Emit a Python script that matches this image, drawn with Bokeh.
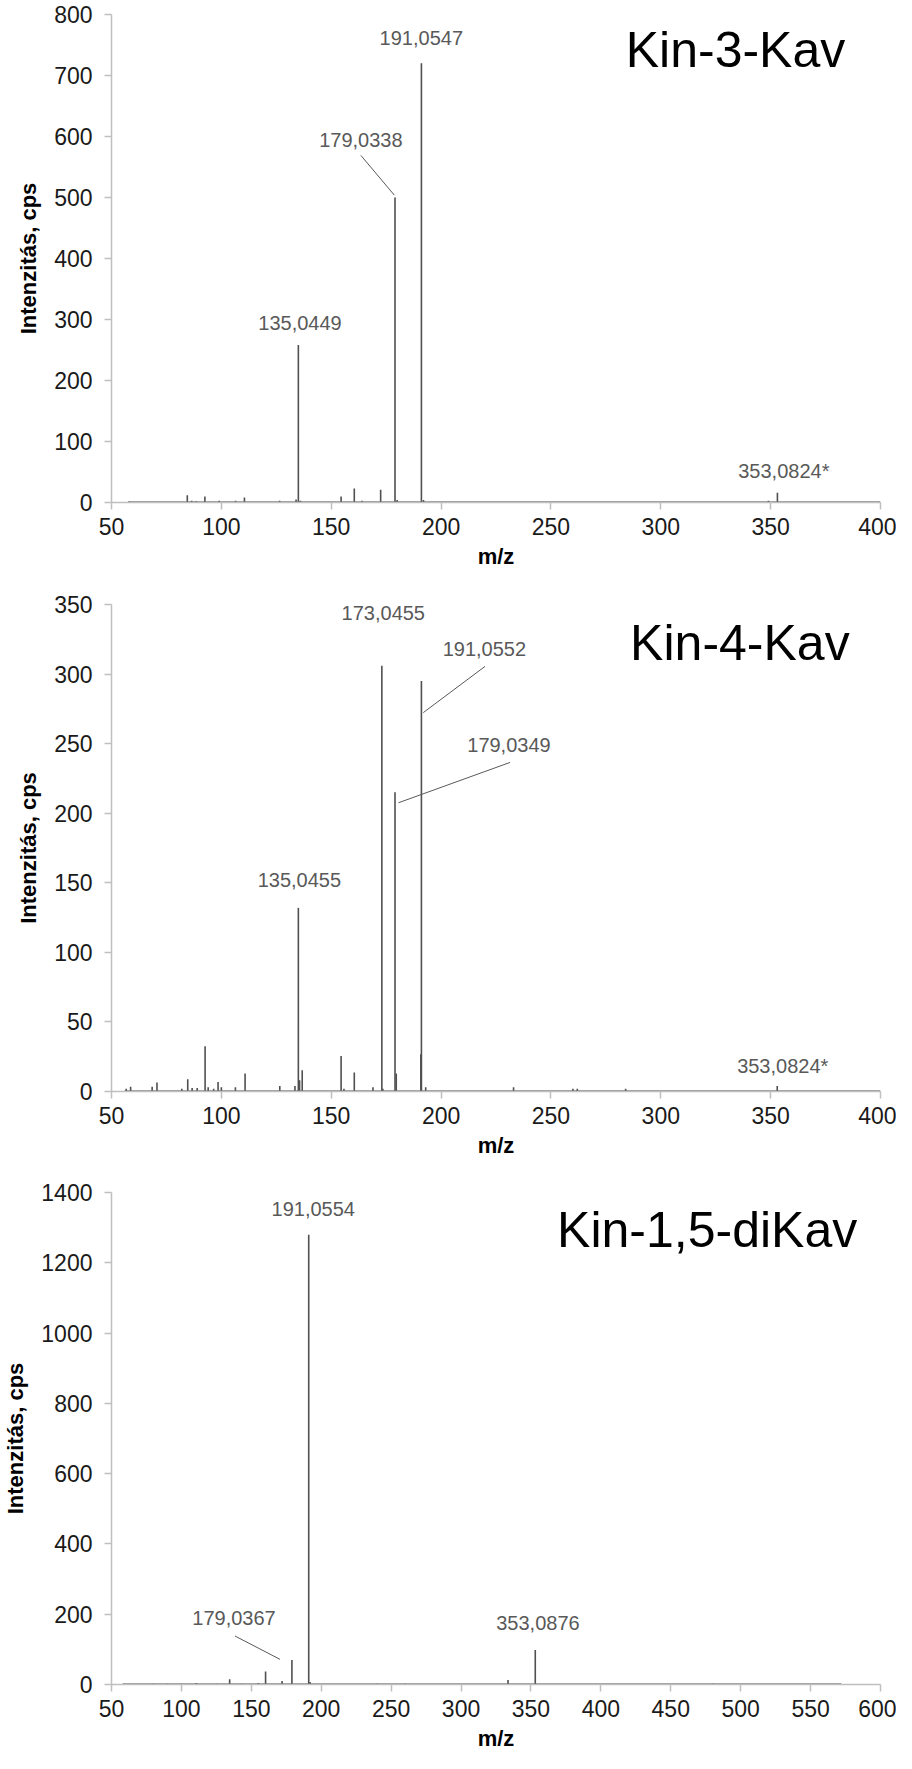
from bokeh.plotting import figure
from bokeh.models import Range1d, SingleIntervalTicker
from bokeh.layouts import column
from bokeh.embed import file_html
from bokeh.resources import INLINE
from bokeh.core.properties import value

FONT = "Liberation Sans"

# ---------------- data ----------------
# Panel 1: Kin-3-Kav
title1 = "Kin-3-Kav"
mz1 = [58, 84.5, 86.5, 88.5, 92.5, 99, 106.5, 110.5, 126.5, 134, 135.0449, 136,
       154.5, 160.5, 164, 172.5, 179.0338, 180, 191.0547, 192, 349, 353.0824]
int1 = [2, 12, 3, 2, 10, 3, 3, 8, 3, 5, 258, 3,
        10, 23, 3, 21, 500, 4, 720, 4, 3, 16]
base1 = [58, 400]
labels1 = ["191,0547", "179,0338", "135,0449", "353,0824*"]
lab1_x = [191.0, 163.5, 135.8, 356.0]
lab1_y = [762, 595, 295, 52]
lead1_x0 = [163.5]
lead1_y0 = [569]
lead1_x1 = [178.7]
lead1_y1 = [504]
ttl1_x, ttl1_y = 334, 741

# Panel 2: Kin-4-Kav
title2 = "Kin-4-Kav"
mz2 = [56.7, 58.7, 68.5, 70.7, 82, 84.7, 86.7, 89, 92.6, 94, 96.5, 98.5, 100,
       106.4, 110.8, 126.6, 133.5, 135.0455, 135.6, 136.8, 154.5, 155.8, 160.5,
       169, 173.0455, 173.5, 179.0349, 179.6, 190.8, 191.0552, 193, 233, 260,
       262, 284, 353]
int2 = [2, 3.5, 3.5, 6.4, 2, 8.8, 2.5, 2.5, 32.6, 3, 2, 6.9, 3,
        3, 12.9, 4, 4, 132, 8, 15.2, 25.5, 2, 13.6,
        3, 306, 2, 215, 12.9, 26.7, 295, 3, 3, 2,
        2, 2, 4]
base2 = [56, 400]
labels2 = ["173,0455", "191,0552", "179,0349", "135,0455", "353,0824*"]
lab2_x = [173.7, 219.7, 230.9, 135.5, 355.5]
lab2_y = [344, 318, 249, 152, 18]
lead2_x0 = [220.0, 231.4]
lead2_y0 = [305.5, 236.5]
lead2_x1 = [191.9, 180.6]
lead2_y1 = [272.3, 207.5]
ttl2_x, ttl2_y = 336, 322

# Panel 3: Kin-1,5-diKav
title3 = "Kin-1,5-diKav"
mz3 = [80, 90, 100, 110.7, 125, 134.5, 143, 155, 160.2, 172, 179.0367,
       191.0554, 192, 240, 260, 333.6, 353.0876, 480]
int3 = [2, 2, 2, 4, 2, 15, 2, 4, 37, 10, 70,
        1280, 7, 2, 2, 13, 98, 2]
base3 = [58, 572]
labels3 = ["191,0554", "179,0367", "353,0876"]
lab3_x = [194.3, 137.6, 355.0]
lab3_y = [1353, 188, 174]
lead3_x0 = [138.3]
lead3_y0 = [138]
lead3_x1 = [170.5]
lead3_y1 = [71.6]
ttl3_x, ttl3_y = 476, 1293

x_label = "m/z"
y_label = "Intenzitás, cps"


def panel(title, mz, inten, base, labels, lx, ly, lx0, ly0, lx1, ly1, tx, ty,
          xmax, ymax, ystep, height, b_left, b_top, b_bottom):
    p = figure(width=896, height=height, output_backend="svg",
               toolbar_location=None,
               x_range=Range1d(50, xmax), y_range=Range1d(0, ymax),
               min_border_left=b_left, min_border_right=16,
               min_border_top=b_top, min_border_bottom=b_bottom)
    p.outline_line_color = None
    p.xgrid.visible = False
    p.ygrid.visible = False
    p.background_fill_color = "white"
    p.border_fill_color = "white"

    p.xaxis.ticker = SingleIntervalTicker(interval=50)
    p.yaxis.ticker = SingleIntervalTicker(interval=ystep)
    for ax in (p.xaxis[0], p.yaxis[0]):
        ax.axis_line_color = "#bfbfbf"
        ax.axis_line_width = 1.5
        ax.major_tick_line_color = "#bfbfbf"
        ax.major_tick_line_width = 1.5
        ax.major_tick_out = 7
        ax.major_tick_in = 0
        ax.minor_tick_out = 0
        ax.minor_tick_in = 0
        ax.major_label_text_font = FONT
        ax.major_label_text_font_size = "23px"
        ax.major_label_text_color = "#1a1a1a"
        ax.axis_label_text_font = FONT
        ax.axis_label_text_font_size = "22px"
        ax.axis_label_text_font_style = "bold"
        ax.axis_label_text_color = "#000000"
    p.xaxis.axis_label = x_label
    p.yaxis.axis_label = y_label
    p.xaxis.major_label_standoff = 8
    p.xaxis.axis_label_standoff = 6
    p.yaxis.major_label_standoff = 12
    p.yaxis.axis_label_standoff = 10

    # baseline of the spectrum
    p.line(x=base, y=[0, 0], line_color="#3a3a3a", line_width=2)
    # peaks
    p.segment(x0=mz, y0=[0] * len(mz), x1=mz, y1=inten,
              line_color="#505050", line_width=1.6)
    # leader lines
    p.segment(x0=lx0, y0=ly0, x1=lx1, y1=ly1, line_color="#595959",
              line_width=1)
    # peak labels
    p.text(x=lx, y=ly, text=labels, text_font=value(FONT),
           text_font_size="20px", text_color="#595959",
           text_align="center", text_baseline="middle")
    # title
    p.text(x=[tx], y=[ty], text=[title], text_font=value(FONT),
           text_font_size="50px", text_color="#000000",
           text_align="center", text_baseline="middle")
    return p


p1 = panel(title1, mz1, int1, base1, labels1, lab1_x, lab1_y,
           lead1_x0, lead1_y0, lead1_x1, lead1_y1, ttl1_x, ttl1_y,
           400, 800, 100, 582, 102, 14, 80)
p2 = panel(title2, mz2, int2, base2, labels2, lab2_x, lab2_y,
           lead2_x0, lead2_y0, lead2_x1, lead2_y1, ttl2_x, ttl2_y,
           400, 350, 50, 589, 102, 22, 80)
p3 = panel(title3, mz3, int3, base3, labels3, lab3_x, lab3_y,
           lead3_x0, lead3_y0, lead3_x1, lead3_y1, ttl3_x, ttl3_y,
           600, 1400, 200, 582, 111, 21, 68)

layout = column(p1, p2, p3, spacing=0)
open("out.html", "w").write(file_html(layout, INLINE))
